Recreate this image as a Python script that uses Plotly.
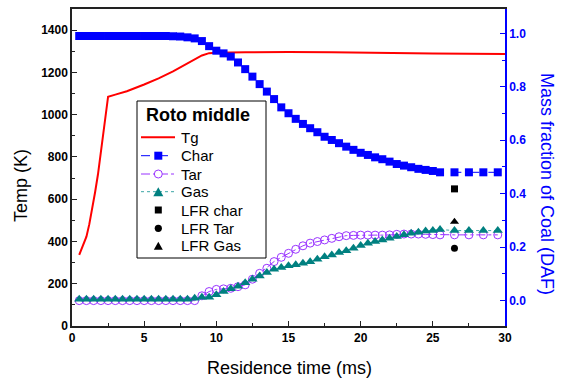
import plotly.graph_objects as go

# ---- data ----
tg_t = [0.5, 0.8, 1.0, 1.2, 1.4, 1.6, 1.8, 2.0, 2.2, 2.5, 3.0, 3.8, 5.0, 6.0, 7.0, 8.0, 8.5, 9.0, 9.5, 10.0, 12, 15, 18, 20, 25, 30]
tg_T = [336, 384, 423, 482, 550, 633, 718, 823, 928, 1085, 1095, 1111, 1143, 1172, 1205, 1243, 1263, 1280, 1291, 1293, 1295, 1297, 1295, 1293, 1289, 1287]

t_grid = [0.5 * i for i in range(1, 52)] + [26.5, 27.5, 28.5, 29.5]

char = ([0.99] * 12 +
        [0.99, 0.989, 0.988, 0.985, 0.981, 0.971, 0.952, 0.935, 0.925, 0.913, 0.891, 0.866,
         0.838, 0.810, 0.782, 0.754, 0.723, 0.701, 0.680, 0.661, 0.645, 0.630, 0.613, 0.601,
         0.589, 0.576, 0.564, 0.553, 0.545, 0.536, 0.529, 0.520, 0.511, 0.505, 0.499, 0.493,
         0.489, 0.485, 0.480] +
        [0.480] * 4)

tar = ([0.0] * 17 +
       [0.018, 0.034, 0.042, 0.044, 0.046, 0.052, 0.059, 0.080, 0.102, 0.121, 0.146, 0.162,
        0.177, 0.192, 0.205, 0.215, 0.221, 0.227, 0.233, 0.239, 0.243, 0.244, 0.245, 0.245,
        0.245, 0.245, 0.246, 0.248, 0.249, 0.249, 0.249, 0.248, 0.247, 0.246] +
       [0.246] * 4)

gas = ([0.005] * 16 +
       [0.009, 0.013, 0.013, 0.022, 0.034, 0.044, 0.054, 0.067, 0.080, 0.092, 0.105, 0.117,
        0.124, 0.130, 0.134, 0.140, 0.145, 0.155, 0.164, 0.171, 0.180, 0.187, 0.196, 0.206,
        0.215, 0.221, 0.227, 0.233, 0.240, 0.246, 0.252, 0.256, 0.260, 0.262, 0.266] +
       [0.262] * 4)

lfr_t = [26.5]
lfr_char = [0.418]
lfr_tar = [0.196]
lfr_gas = [0.295]

legend_title = "Roto middle"
legend_names = ["Tg", "Char", "Tar", "Gas", "LFR char", "LFR Tar", "LFR Gas"]

FONT = "Arial, Liberation Sans, sans-serif"
RED, BLUE, PURPLE, TEAL, TEAL_LINE = "#ff0000", "#0000ff", "#9933ff", "#008080", "#3aa6a6"

# plot-area geometry (pixels)
W, H = 562, 378
ML, MR, MT, MB = 72, 57, 9, 52
PW, PH = W - ML - MR, H - MT - MB


def px(x):
    return (x - ML) / PW


def py(y):
    return (H - MB - y) / PH


fig = go.Figure()
fig.add_trace(go.Scatter(x=tg_t, y=tg_T, mode="lines", name="Tg", showlegend=False,
                         line=dict(color=RED, width=2), yaxis="y"))
fig.add_trace(go.Scatter(x=t_grid, y=char, mode="lines+markers", name="Char", showlegend=False,
                         line=dict(color=BLUE, width=1, dash="dash"),
                         marker=dict(symbol="square", size=8, color=BLUE), yaxis="y2"))
fig.add_trace(go.Scatter(x=t_grid, y=tar, mode="lines+markers", name="Tar", showlegend=False,
                         line=dict(color=PURPLE, width=1, dash="dashdot"),
                         marker=dict(symbol="circle-open", size=8, color=PURPLE, line=dict(width=1)),
                         yaxis="y2"))
fig.add_trace(go.Scatter(x=t_grid, y=gas, mode="lines+markers", name="Gas", showlegend=False,
                         line=dict(color=TEAL_LINE, width=1, dash="dot"),
                         marker=dict(symbol="triangle-up", size=9, color=TEAL), yaxis="y2"))
fig.add_trace(go.Scatter(x=lfr_t, y=lfr_char, mode="markers", name="LFR char", showlegend=False,
                         marker=dict(symbol="square", size=7, color="black"), yaxis="y2"))
fig.add_trace(go.Scatter(x=lfr_t, y=lfr_tar, mode="markers", name="LFR Tar", showlegend=False,
                         marker=dict(symbol="circle", size=7, color="black"), yaxis="y2"))
fig.add_trace(go.Scatter(x=lfr_t, y=lfr_gas, mode="markers", name="LFR Gas", showlegend=False,
                         marker=dict(symbol="triangle-up", size=8, color="black"), yaxis="y2"))

# ---- legend drawn as shapes + annotations ----
shapes = []
annotations = []
box_l, box_r, box_t, box_b = 137, 266, 101, 258
shapes.append(dict(type="rect", xref="paper", yref="paper",
                   x0=px(box_l), x1=px(box_r), y0=py(box_b), y1=py(box_t),
                   line=dict(color="black", width=1), fillcolor="white", layer="above"))
annotations.append(dict(text="<b>" + legend_title + "</b>", xref="paper", yref="paper",
                        x=px(197.5), y=py(115), xanchor="center", yanchor="middle",
                        showarrow=False, font=dict(size=18, family=FONT, color="black")))
row_y = [137.3, 155.7, 174, 191.7, 210, 228.3, 245.7]
seg_x0, seg_x1, mk_x, txt_x = 141, 175, 158.3, 179
line_styles = [(RED, 2, "solid"), (BLUE, 1, "dash"), (PURPLE, 1, "dashdot"), (TEAL_LINE, 1, "dot")]
for i, name in enumerate(legend_names):
    yc = row_y[i]
    annotations.append(dict(text=name, xref="paper", yref="paper", x=px(txt_x), y=py(yc),
                            xanchor="left", yanchor="middle", showarrow=False,
                            font=dict(size=15, family=FONT, color="black")))
    if i < 4:
        c, w, d = line_styles[i]
        shapes.append(dict(type="line", xref="paper", yref="paper",
                           x0=px(seg_x0), x1=px(seg_x1), y0=py(yc), y1=py(yc),
                           line=dict(color=c, width=w, dash=d), layer="above"))


def square(xc, yc, s, color):
    return dict(type="rect", xref="paper", yref="paper",
                x0=px(xc - s / 2), x1=px(xc + s / 2), y0=py(yc + s / 2), y1=py(yc - s / 2),
                line=dict(width=0), fillcolor=color, layer="above")


def circle(xc, yc, r, color, fill):
    return dict(type="circle", xref="paper", yref="paper",
                x0=px(xc - r), x1=px(xc + r), y0=py(yc + r), y1=py(yc - r),
                line=dict(color=color, width=1 if fill == "white" else 0), fillcolor=fill, layer="above")


def triangle(xc, yc, s, color):
    h = s * 0.9
    p = "M {} {} L {} {} L {} {} Z".format(px(xc - s / 2), py(yc + h / 2), px(xc + s / 2), py(yc + h / 2),
                                          px(xc), py(yc - h / 2))
    return dict(type="path", xref="paper", yref="paper", path=p,
                line=dict(width=0), fillcolor=color, layer="above")


shapes.append(square(mk_x, row_y[1], 8, BLUE))
shapes.append(circle(mk_x, row_y[2], 4, PURPLE, "white"))
shapes.append(triangle(mk_x, row_y[3], 10, TEAL))
shapes.append(square(mk_x, row_y[4], 7, "black"))
shapes.append(circle(mk_x, row_y[5], 3.6, "black", "black"))
shapes.append(triangle(mk_x, row_y[6], 9, "black"))

# ---- axis titles ----
annotations.append(dict(text="Mass fraction of Coal (DAF)", textangle=90,
                        xref="paper", yref="paper", x=px(547), y=py(184),
                        xanchor="center", yanchor="middle", showarrow=False,
                        font=dict(size=18, family=FONT, color=BLUE)))
annotations.append(dict(text="Temp (K)", textangle=-90,
                        xref="paper", yref="paper", x=px(21), y=py(186),
                        xanchor="center", yanchor="middle", showarrow=False,
                        font=dict(size=18, family=FONT, color="black")))
annotations.append(dict(text="Residence time (ms)",
                        xref="paper", yref="paper", x=px(289), y=py(368),
                        xanchor="center", yanchor="middle", showarrow=False,
                        font=dict(size=18, family=FONT, color="black")))

fig.update_layout(
    width=W, height=H,
    margin=dict(l=ML, r=MR, t=MT, b=MB, autoexpand=False),
    paper_bgcolor="white", plot_bgcolor="white",
    font=dict(family=FONT, color="black"),
    showlegend=False,
    shapes=shapes,
    annotations=annotations,
    xaxis=dict(
        range=[0, 30], dtick=5, tick0=0, automargin=False,
        showline=True, linecolor="#222", linewidth=1.5, mirror=True,
        ticks="inside", ticklen=5, tickwidth=1, tickcolor="#222",
        minor=dict(ticks="inside", ticklen=3, dtick=2.5, tickcolor="#222"),
        showgrid=False, zeroline=False,
        tickfont=dict(size=12, family=FONT, color="black", weight="bold"),
    ),
    yaxis=dict(
        range=[0, 1500], dtick=200, tick0=0, automargin=False,
        showline=True, linecolor="#222", linewidth=1.5,
        ticks="inside", ticklen=5, tickwidth=1, tickcolor="#222",
        minor=dict(ticks="inside", ticklen=3, dtick=100, tickcolor="#222"),
        showgrid=False, zeroline=False,
        tickfont=dict(size=12, family=FONT, color="black", weight="bold"),
    ),
    yaxis2=dict(
        overlaying="y", side="right", automargin=False,
        range=[-0.095, 1.091], dtick=0.2, tick0=0, tickformat=".1f",
        showline=True, linecolor=BLUE, linewidth=1.5,
        ticks="inside", ticklen=5, tickwidth=1, tickcolor=BLUE,
        minor=dict(ticks="inside", ticklen=3, dtick=0.1, tick0=0, tickcolor=BLUE),
        showgrid=False, zeroline=False,
        tickfont=dict(size=12, family=FONT, color=BLUE, weight="bold"),
    ),
)

fig.write_html("out.html")
